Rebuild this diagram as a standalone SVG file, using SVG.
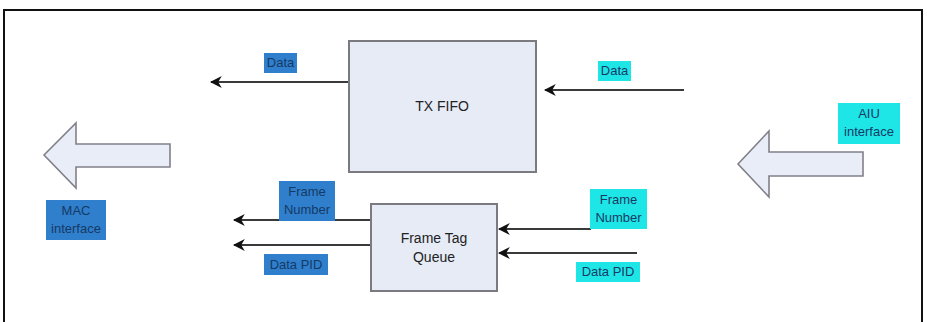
<svg xmlns="http://www.w3.org/2000/svg" width="927" height="322" viewBox="0 0 927 322">
<defs>
<style>
.frame{fill:#fff;stroke:#111;stroke-width:2}
.box{fill:#e6ebf6;stroke:#7a7a80;stroke-width:2}
.big{fill:#e8edf8;stroke:#808088;stroke-width:1.6}
.conn{stroke:#3a3a3a;stroke-width:2;fill:none;marker-end:url(#ah)}
.lb{fill:#2f7fcc}
.lc{fill:#1fe6e6}
text{font-family:"Liberation Sans",Arial,sans-serif;font-size:13px;text-anchor:middle}
.lt{fill:#163a66}
.bt{fill:#222;font-size:14px}
</style>
<marker id="ah" viewBox="0 0 10 10" refX="9" refY="5" markerWidth="6" markerHeight="6" orient="auto" markerUnits="strokeWidth">
<path d="M0,0 L10,5 L0,10 L3,5 Z" fill="#111"/>
</marker>
</defs>
<rect x="0" y="0" width="927" height="322" fill="#fff"/>
<path class="frame" d="M4,330 V10 H922 V330" />
<g id="connectors">
<line class="conn" x1="349" y1="82" x2="211" y2="82"/>
<line class="conn" x1="684" y1="90" x2="545" y2="90"/>
<line class="conn" x1="371" y1="220" x2="234" y2="220"/>
<line class="conn" x1="371" y1="245" x2="234" y2="245"/>
<line class="conn" x1="591" y1="229" x2="499" y2="229"/>
<line class="conn" x1="637" y1="253" x2="499" y2="253"/>
</g>
<g id="txfifo">
<rect class="box" x="349" y="41" width="187" height="131"/>
<text class="bt" x="442" y="111">TX FIFO</text>
</g>
<g id="frametagqueue">
<rect class="box" x="371" y="204" width="126" height="87"/>
<text class="bt" x="434" y="243">Frame Tag</text>
<text class="bt" x="434" y="262">Queue</text>
</g>
<g id="mac-arrow">
<path class="big" d="M44,155 L76,123 L76,144 L170,144 L170,167 L76,167 L76,188 Z"/>
</g>
<g id="aiu-arrow">
<path class="big" d="M738,164 L769,131 L769,152 L863,152 L863,176 L769,176 L769,197 Z"/>
</g>
<g id="label-data-out">
<rect class="lb" x="264" y="53" width="33" height="20"/>
<text class="lt" x="280.5" y="67">Data</text>
</g>
<g id="label-data-in">
<rect class="lc" x="598" y="61" width="33" height="20"/>
<text class="lt" x="614.5" y="75">Data</text>
</g>
<g id="label-mac">
<rect class="lb" x="46" y="200" width="60" height="40"/>
<text class="lt" x="76" y="215">MAC</text>
<text class="lt" x="76" y="233">interface</text>
</g>
<g id="label-aiu">
<rect class="lc" x="838" y="103" width="62" height="41"/>
<text class="lt" x="869" y="118">AIU</text>
<text class="lt" x="869" y="136">interface</text>
</g>
<g id="label-fn-out">
<rect class="lb" x="279" y="181" width="56" height="40"/>
<text class="lt" x="307" y="196">Frame</text>
<text class="lt" x="307" y="214">Number</text>
</g>
<g id="label-pid-out">
<rect class="lb" x="264" y="254" width="64" height="21"/>
<text class="lt" x="296" y="269">Data PID</text>
</g>
<g id="label-fn-in">
<rect class="lc" x="590" y="189" width="57" height="40"/>
<text class="lt" x="618.5" y="204">Frame</text>
<text class="lt" x="618.5" y="222">Number</text>
</g>
<g id="label-pid-in">
<rect class="lc" x="576" y="262" width="64" height="20"/>
<text class="lt" x="608" y="276">Data PID</text>
</g>
</svg>
